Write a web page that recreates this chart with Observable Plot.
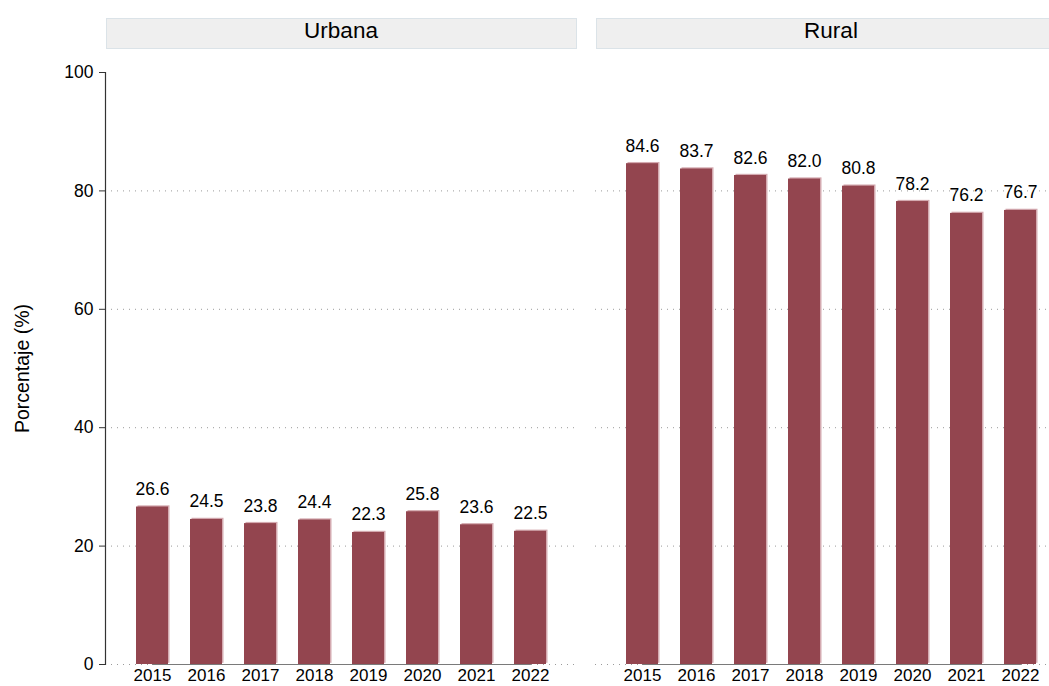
<!DOCTYPE html>
<html>
<head>
<meta charset="utf-8">
<script src="https://cdn.jsdelivr.net/npm/d3@7"></script>
<script src="https://cdn.jsdelivr.net/npm/@observablehq/plot@0.6"></script>
<style>
  html, body { margin: 0; padding: 0; background: #fff; }
  #chart svg { display: block; }
</style>
</head>
<body>
<div id="chart"></div>
<script>
const years = ["2015", "2016", "2017", "2018", "2019", "2020", "2021", "2022"];
const areas = ["Urbana", "Rural"];
const urbana = [26.6, 24.5, 23.8, 24.4, 22.3, 25.8, 23.6, 22.5];
const rural = [84.6, 83.7, 82.6, 82.0, 80.8, 78.2, 76.2, 76.7];
const yTicks = [0, 20, 40, 60, 80, 100];
const gridTicks = [0, 20, 40, 60, 80];

const series = {Urbana: urbana, Rural: rural};
const table = areas.flatMap(a => years.map((y, i) => ({area: a, year: y, value: series[a][i]})));
const baseline = areas.flatMap(a => [years[0], years[years.length - 1]].map(y => ({area: a, year: y, value: 0})));

const barColor = "#93454f";
const font = "Arial, 'Liberation Sans', Helvetica, sans-serif";

const chart = Plot.plot({
  width: 1049,
  height: 686,
  marginLeft: 105,
  marginRight: -17,
  marginTop: 72,
  marginBottom: 22,
  style: {fontFamily: font, fontSize: "17.5px", color: "#000", background: "#fff"},
  fx: {domain: areas, paddingInner: 19 / 490, paddingOuter: 0, axis: null, label: null},
  x: {domain: years, paddingInner: 0.41, paddingOuter: 0.54, label: null},
  y: {domain: [0, 100], label: null},
  marks: [
    Plot.frame({fill: "#efefef", stroke: "#dbe3e8", insetTop: -54, insetBottom: 616, insetLeft: 1}),
    Plot.text(areas, {fx: d => d, text: d => d, frameAnchor: "top", lineAnchor: "middle", dy: -42, fontSize: 22.5, fill: "#000"}),
    Plot.gridY(gridTicks, {stroke: "#9a9a9a", strokeOpacity: 1, strokeDasharray: "1,5"}),
    Plot.line(baseline, {fx: "area", x: "year", y: "value", z: "area", stroke: "#7a7a7a", strokeWidth: 1.2}),
    Plot.barY(table, {fx: "area", x: "year", y: "value", fill: "#d4aab0", dx: 1.5, dy: -1.2}),
    Plot.barY(table, {fx: "area", x: "year", y: "value", fill: barColor}),
    Plot.text(table, {fx: "area", x: "year", y: "value", text: d => d.value.toFixed(1), lineAnchor: "bottom", dy: -12, fontSize: 17.5, fill: "#000"}),
    Plot.frame({anchor: "left", fx: () => "Urbana", stroke: "#333", strokeWidth: 1.2}),
    Plot.axisY({ticks: yTicks, tickSize: 6, tickPadding: 6, fontSize: 17.5, label: null, stroke: "#333"}),
    Plot.text(["Porcentaje (%)"], {fx: () => "Urbana", text: d => d, frameAnchor: "left", textAnchor: "middle", lineAnchor: "middle", rotate: -90, dx: -83, fontSize: 19.5, fill: "#000"}),
    Plot.axisX({tickSize: 0, tickPadding: 4, fontSize: 17, label: null})
  ]
});

document.getElementById("chart").appendChild(chart);
</script>
</body>
</html>
